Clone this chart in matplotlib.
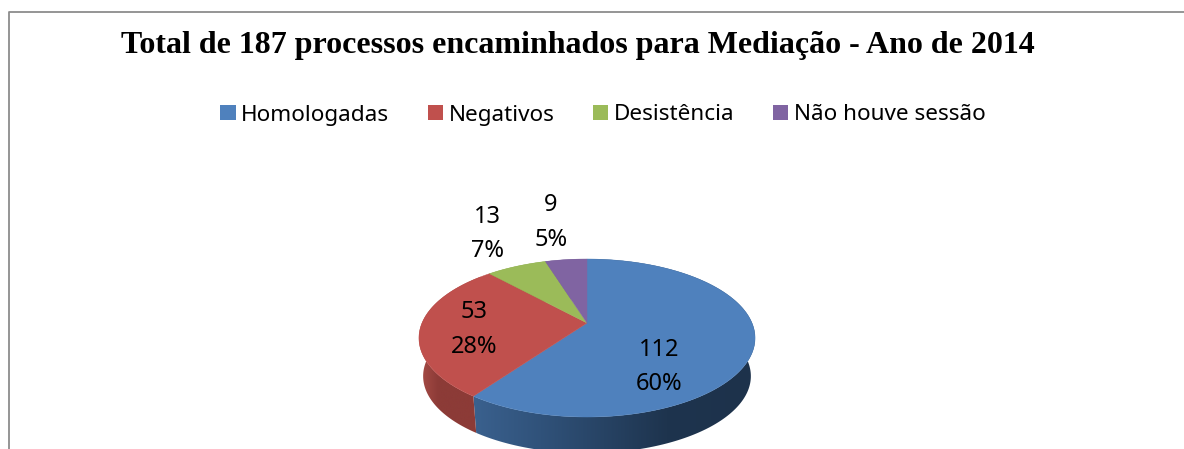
import numpy as np
import matplotlib
matplotlib.use('Agg')
import matplotlib.pyplot as plt
from matplotlib.colors import LinearSegmentedColormap
from matplotlib.patches import Patch, Polygon

# Data
categories = ['Homologadas', 'Negativos', 'Desistência', 'Não houve sessão']
values = [112, 53, 13, 9]
title = 'Total de 187 processos encaminhados para Mediação - Ano de 2014'

face_colors = ['#4F81BD', '#C0504D', '#9BBB59', '#8064A2']
wall_colors = [['#3F6898', '#30527A', '#1E344E', '#1D324B'],
               ['#A84C47', '#8C3B37', '#8C3B37', '#8C3B37'],
               ['#7C9647', '#7C9647', '#7C9647', '#7C9647'],
               ['#665082', '#665082', '#665082', '#665082']]
label_pos = [(659, 367), (474, 329.5), (487, 234), (551, 222.5)]

# Pie geometry in image pixels (perspective view of a tilted disc)
CX, CY = 587, 323
HALF_W, HALF_H, TILT = 165, 76.15, 0.19
DEPTH, SHRINK = 38.5, 0.975


def rim(t, shift=0.0, scale=1.0):
    # t is clockwise from 12 o'clock
    u, v = np.sin(t), np.cos(t)
    w = 1 + TILT * v
    return CX + scale * HALF_W * u / w, CY + shift - scale * HALF_H * v / w


fig = plt.figure(figsize=(11.84, 4.49), dpi=100)
ax = fig.add_axes([0, 0, 1, 1])

edges = 2 * np.pi * np.concatenate([[0], np.cumsum(values)]) / sum(values)

# Side walls first, the top face covers whatever is hidden
grad = np.linspace(0, 1, 512)[None, :]
for i in range(len(values)):
    t = np.linspace(edges[i], edges[i + 1], 200)
    xt, yt = rim(t)
    xb, yb = rim(t, DEPTH, SHRINK)
    poly = Polygon(np.column_stack([np.r_[xt, xb[::-1]], np.r_[yt, yb[::-1]]]),
                   closed=True, facecolor='none', edgecolor='none')
    ax.add_patch(poly)
    cmap = LinearSegmentedColormap.from_list(
        'wall', list(zip([0, 0.32, 0.72, 1], wall_colors[i])))
    im = ax.imshow(grad, extent=(440, 755, 470, 250), cmap=cmap, aspect='auto',
                   zorder=1)
    if i == 1:
        im.set_extent((419, 480, 470, 250))
    im.set_clip_path(poly)

for i in range(len(values)):
    t = np.linspace(edges[i], edges[i + 1], 200)
    xt, yt = rim(t)
    ax.add_patch(Polygon(np.column_stack([np.r_[CX, xt], np.r_[CY, yt]]), closed=True,
                         facecolor=face_colors[i], edgecolor=face_colors[i],
                         linewidth=0.3, zorder=2))

# Data labels
for v, (lx, ly) in zip(values, label_pos):
    pct = round(100 * v / sum(values))
    ax.text(lx, ly, f'{v}\n{pct}%', ha='center', va='center', fontsize=17,
            family='Noto Sans', color='black', linespacing=1.6, zorder=3)

# Chart frame, only the top and left are in the crop
ax.plot([8.5, 8.5, 1184], [449, 11.5, 11.5], color='#8C8C8C', lw=1.3, zorder=1)

ax.text(578, 46, title, ha='center', va='center', fontsize=23,
        family='Liberation Serif', fontweight='bold', color='black')

handles = [Patch(facecolor=c, edgecolor='none') for c in face_colors]
fig.legend(handles, categories, ncol=4, loc='center',
           bbox_to_anchor=(603 / 1184, 1 - 115 / 449), frameon=False,
           prop={'family': 'Noto Sans', 'size': 16.2},
           handlelength=0.68, handleheight=0.68, handletextpad=0.24,
           columnspacing=1.72, borderpad=0)

ax.set_xlim(0, 1184)
ax.set_ylim(449, 0)
ax.axis('off')

fig.savefig('out.png', dpi=100)
